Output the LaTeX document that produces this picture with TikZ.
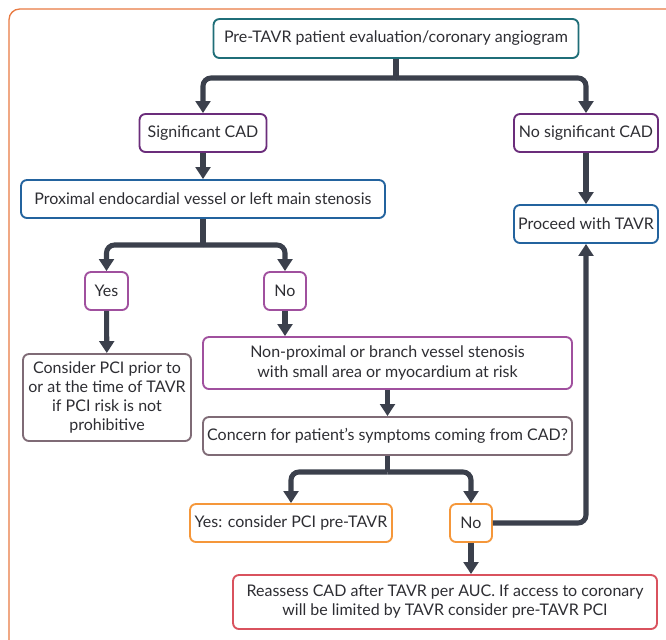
\documentclass[tikz,border=0pt]{standalone}
\usepackage{fontspec}
\setmainfont{Lato}
\usetikzlibrary{arrows.meta, positioning}
\definecolor{framec}{HTML}{E87A42}
\definecolor{tealc}{HTML}{1F6E78}
\definecolor{purplec}{HTML}{6B2D7B}
\definecolor{bluec}{HTML}{23639E}
\definecolor{magentac}{HTML}{A0509E}
\definecolor{mauvec}{HTML}{7F6B76}
\definecolor{orangec}{HTML}{F5973A}
\definecolor{redc}{HTML}{D9525E}
\definecolor{arrowc}{HTML}{3B404C}
\definecolor{txt}{HTML}{2E2E33}

\begin{document}
\begin{tikzpicture}[x=0.75pt, y=-0.75pt,
  box/.style={draw, line width=1.4pt, rounded corners=4.5pt, fill=white, text=txt,
    align=center, inner sep=0pt, minimum height=28.5pt, font=\fontsize{12}{14.3}\selectfont},
  link/.style={draw=arrowc, line width=3.8pt, rounded corners=6pt},
  flow/.style={link, -{Triangle[length=9pt,width=11pt]}}]
  \useasboundingbox (0,0) rectangle (666,639);
  \clip (0,0) rectangle (666,639);

  % Frame
  \draw[framec, line width=1pt, rounded corners=8pt] (9,9) rectangle (700,700);

  % Boxes
  \node[box, draw=tealc, minimum width=273.75pt, minimum height=29.25pt] (top) at (396,38.5)
    {Pre-TAVR patient evaluation/coronary angiogram};
  \node[box, draw=purplec, minimum width=95.25pt] (sig) at (203,133) {Significant CAD};
  \node[box, draw=purplec, minimum width=108pt] (nosig) at (586,133) {No significant CAD};
  \node[box, draw=bluec, minimum width=273pt] (prox) at (203,199)
    {Proximal endocardial vessel or left main stenosis};
  \node[box, draw=bluec, minimum width=108pt] (proceed) at (586,224) {Proceed with TAVR};
  \node[box, draw=magentac, minimum width=32.25pt] (yes) at (106.5,291) {Yes};
  \node[box, draw=magentac, minimum width=31.5pt] (no1) at (285,291) {No};
  \node[box, draw=mauvec, minimum width=126pt, minimum height=65.25pt] (consider) at (107,397.5)
    {Consider PCI prior to\\or at the time of TAVR\\if PCI risk is not\\prohibitive};
  \node[box, draw=magentac, minimum width=276.75pt, minimum height=39pt] (nonprox) at (387.5,363)
    {Non-proximal or branch vessel stenosis\\with small area or myocardium at risk};
  \node[box, draw=mauvec, minimum width=276.75pt] (concern) at (387.5,436)
    {Concern for patient’s symptoms coming from CAD?};
  \node[box, draw=orangec, minimum width=151.5pt] (yespci) at (291,523) {Yes: consider PCI pre-TAVR};
  \node[box, draw=orangec, minimum width=31.5pt] (no2) at (471,523) {No};
  \node[box, draw=redc, minimum width=318pt, minimum height=40.5pt] (reassess) at (445,602)
    {Reassess CAD after TAVR per AUC. If access to coronary\\will be limited by TAVR consider pre-TAVR PCI};

  % Junctions
  \coordinate (j1) at (396,78);
  \coordinate (j2) at (203,245);
  \coordinate (j3) at (387.5,472);

  % Connectors
  \draw[link] (top.south) -- (j1);
  \draw[flow] (j1) -| (sig.north);
  \draw[flow] (j1) -| (nosig.north);
  \draw[flow] (sig) -- (prox);
  \draw[flow] (nosig) -- (proceed);
  \draw[link] (prox.south) -- (j2);
  \draw[flow] (j2) -| (yes.north);
  \draw[flow] (j2) -| (no1.north);
  \draw[flow] (yes) -- (consider);
  \draw[flow] (no1.south) -- (no1.south |- nonprox.north);
  \draw[flow] (nonprox) -- (concern);
  \draw[link] (concern.south) -- (j3);
  \draw[flow] (j3) -| (yespci.north);
  \draw[flow] (j3) -| (no2.north);
  \draw[flow] (no2.east) -| (proceed.south);
  \draw[flow] (no2.south) -- (no2.south |- reassess.north);
\end{tikzpicture}
\end{document}
